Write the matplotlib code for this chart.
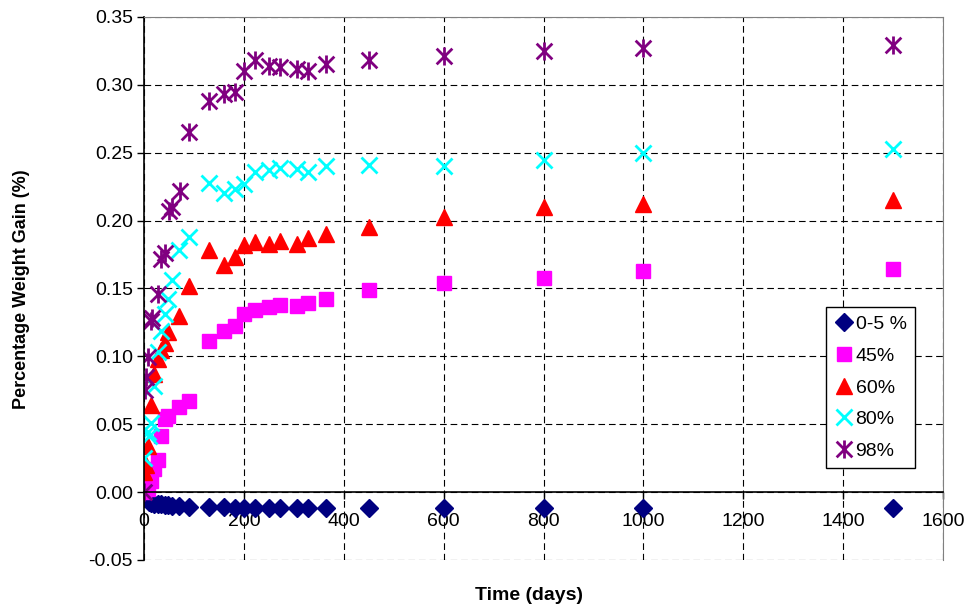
import matplotlib
matplotlib.use("Agg")
import matplotlib.pyplot as plt
from matplotlib.path import Path

plt.rcParams["font.family"] = ["Liberation Sans", "DejaVu Sans"]

# 0-5 % RH
days_05 = [0, 3, 7, 10, 14, 21, 28, 35, 42, 49, 56, 70, 91, 130, 160, 182, 200, 222, 250, 273,
           306, 329, 364, 450, 600, 800, 1000, 1500]
gain_05 = [0.000, -0.004, -0.006, -0.007, -0.008, -0.0085, -0.009, -0.009, -0.0095, -0.0095,
           -0.010, -0.0105, -0.011, -0.011, -0.011, -0.0115, -0.0115, -0.0115, -0.012, -0.012,
           -0.012, -0.012, -0.012, -0.012, -0.012, -0.012, -0.012, -0.012]

# 45 % RH
days_45 = [0, 7, 14, 21, 28, 35, 42, 49, 70, 91, 130, 160, 182, 200, 222, 250, 273, 306, 329,
           364, 450, 600, 800, 1000, 1500]
gain_45 = [0.000, 0.002, 0.008, 0.017, 0.024, 0.041, 0.054, 0.056, 0.063, 0.067, 0.111, 0.119,
           0.122, 0.131, 0.134, 0.136, 0.138, 0.137, 0.139, 0.142, 0.149, 0.154, 0.158, 0.163, 0.164]

# 60 % RH
days_60 = [0, 3, 7, 14, 21, 28, 35, 42, 49, 70, 91, 130, 160, 182, 200, 222, 250, 273, 306, 329,
           364, 450, 600, 800, 1000, 1500]
gain_60 = [0.015, 0.020, 0.034, 0.064, 0.087, 0.098, 0.105, 0.110, 0.118, 0.130, 0.152, 0.178,
           0.167, 0.173, 0.182, 0.184, 0.183, 0.185, 0.183, 0.187, 0.190, 0.195, 0.203, 0.210,
           0.212, 0.215]

# 80 % RH
days_80 = [0, 7, 10, 14, 21, 28, 35, 42, 49, 56, 70, 91, 130, 160, 182, 200, 222, 250, 273, 306,
           329, 364, 450, 600, 800, 1000, 1500]
gain_80 = [0.025, 0.044, 0.041, 0.051, 0.078, 0.103, 0.119, 0.131, 0.142, 0.156, 0.178, 0.188,
           0.228, 0.220, 0.223, 0.227, 0.236, 0.237, 0.239, 0.238, 0.236, 0.240, 0.241, 0.240,
           0.245, 0.250, 0.253]

# 98 % RH
days_98 = [0, 1, 3, 7, 14, 17, 28, 35, 42, 50, 56, 73, 91, 130, 160, 182, 200, 222, 250, 273,
           306, 329, 364, 450, 600, 800, 1000, 1500]
gain_98 = [0.000, 0.075, 0.085, 0.0995, 0.126, 0.128, 0.146, 0.172, 0.176, 0.207, 0.210, 0.222,
           0.265, 0.288, 0.293, 0.295, 0.310, 0.318, 0.314, 0.313, 0.312, 0.310, 0.315, 0.318,
           0.321, 0.325, 0.327, 0.329]

labels = ["0-5 %", "45%", "60%", "80%", "98%"]

# excel style asterisk: x plus vertical bar
star = Path([(-1, -1), (1, 1), (-1, 1), (1, -1), (0, -1.15), (0, 1.15)],
            [Path.MOVETO, Path.LINETO, Path.MOVETO, Path.LINETO, Path.MOVETO, Path.LINETO])

fig = plt.figure(figsize=(9.77, 6.13), dpi=100)
ax = fig.add_axes([0.1474, 0.0865, 0.8178, 0.8858])

ax.plot(days_05, gain_05, ls="none", marker="D", ms=9, color="#000080", mec="#000080", label=labels[0])
ax.plot(days_45, gain_45, ls="none", marker="s", ms=10.5, color="#FF00FF", mec="#FF00FF", label=labels[1])
ax.plot(days_60, gain_60, ls="none", marker="^", ms=11.5, color="#FF0000", mec="#FF0000", label=labels[2])
ax.plot(days_80, gain_80, ls="none", marker="x", ms=11, mew=2, color="#00FFFF", label=labels[3])
ax.plot(days_98, gain_98, ls="none", marker=star, ms=13, mew=2, color="#800080", label=labels[4])

ax.set_xlim(0, 1600)
ax.set_ylim(-0.05, 0.35)
ax.set_xticks(range(0, 1601, 200))
ax.set_yticks([-0.05, 0.0, 0.05, 0.10, 0.15, 0.20, 0.25, 0.30, 0.35])
ax.set_yticklabels(["%.2f" % v for v in ax.get_yticks()])

ax.grid(True, color="black", linestyle=(0, (6, 3.5)), linewidth=0.8)
ax.set_axisbelow(True)

ax.spines["bottom"].set_position(("data", 0))
ax.spines["bottom"].set_linewidth(1.2)
ax.spines["left"].set_linewidth(1.2)
ax.spines["top"].set_color("#808080")
ax.spines["right"].set_color("#808080")
ax.tick_params(axis="y", direction="out", length=5, width=1, labelsize=14, pad=3)
ax.tick_params(axis="x", direction="out", length=5, width=1, labelsize=14, pad=10)

fig.text(529 / 977, 1 - 596 / 613, "Time (days)", ha="center", va="center",
         fontsize=14, fontweight="bold")
fig.text(22 / 977, 1 - 289 / 613, "Percentage Weight Gain (%)", ha="center", va="center",
         rotation=90, fontsize=13, fontweight="bold")

leg = ax.legend(loc="upper left", bbox_to_anchor=(0.854, 0.466), numpoints=1, fontsize=14,
                frameon=True, fancybox=False, framealpha=1, edgecolor="black",
                handlelength=0.9, handletextpad=0.15, borderpad=0.45, labelspacing=0.72,
                borderaxespad=0)
leg.get_frame().set_linewidth(1)

fig.savefig("out.png", dpi=100)
